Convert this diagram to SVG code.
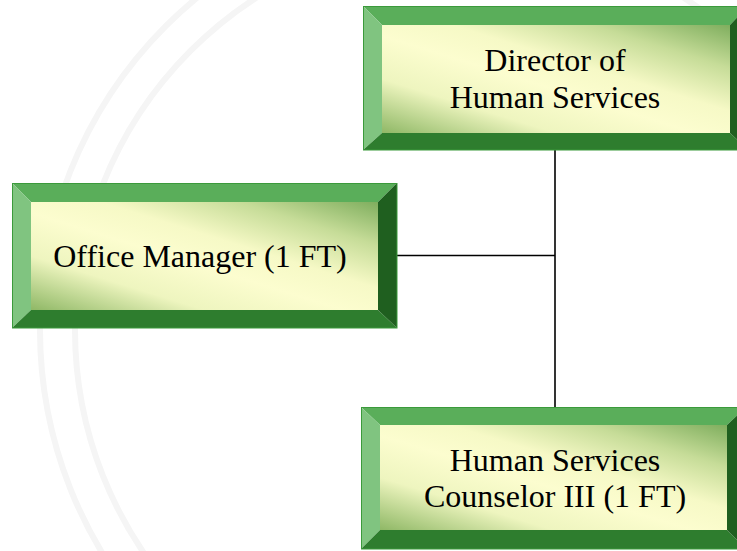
<svg xmlns="http://www.w3.org/2000/svg" width="737" height="551" viewBox="0 0 737 551">
<defs>
<linearGradient id="face" x1="0" y1="1" x2="1" y2="0">
<stop offset="0" stop-color="#8fb866"/>
<stop offset="0.25" stop-color="#eef5bf"/>
<stop offset="0.45" stop-color="#fcfdcf"/>
<stop offset="0.6" stop-color="#f6f9c6"/>
<stop offset="0.8" stop-color="#c6dc98"/>
<stop offset="1" stop-color="#7fae5e"/>
</linearGradient>
<style>
.t{fill:#5aae5a}.l{fill:#80c480}.b{fill:#2e7d2e}.r{fill:#1f5f1f}
.o{fill:none;stroke:#3b9a3b;stroke-width:1}
.f{fill:url(#face)}
.txt{font-family:"Liberation Serif","Times New Roman",serif;font-size:32px;fill:#000;text-anchor:middle}
.wm{fill:none;stroke:#f5f5f5;stroke-width:6}
.c{stroke:#000;stroke-width:1.6;fill:none}
</style>
</defs>
<rect width="737" height="551" fill="#fff"/>
<g id="watermark">
<circle class="wm" cx="470" cy="330" r="430"/>
<circle class="wm" cx="470" cy="330" r="395"/>
</g>
<g id="connectors">
<line class="c" x1="555" y1="150" x2="555" y2="407"/>
<line class="c" x1="397" y1="255.5" x2="555" y2="255.5"/>
</g>
<g id="director">
<polygon class="t" points="363,6 748,6 730,25 382,25"/>
<polygon class="l" points="363,6 382,25 382,133 363,150"/>
<polygon class="b" points="363,150 382,133 730,133 748,150"/>
<polygon class="r" points="748,6 730,25 730,133 748,150"/>
<rect class="f" x="382" y="25" width="348" height="108"/>
<rect class="o" x="363.5" y="6.5" width="385" height="143.5"/>
<text class="txt" x="555" y="71">Director of</text>
<text class="txt" x="555" y="108">Human Services</text>
</g>
<g id="office-manager">
<polygon class="t" points="12,183 397,183 378,202 31,202"/>
<polygon class="l" points="12,183 31,202 31,310 12,328"/>
<polygon class="b" points="12,328 31,310 378,310 397,328"/>
<polygon class="r" points="397,183 378,202 378,310 397,328"/>
<rect class="f" x="31" y="202" width="347" height="108"/>
<rect class="o" x="12.5" y="183.5" width="384.5" height="144.5"/>
<text class="txt" x="200" y="267">Office Manager (1 FT)</text>
</g>
<g id="counselor">
<polygon class="t" points="361,407 746,407 727,425 380,425"/>
<polygon class="l" points="361,407 380,425 380,530 361,549"/>
<polygon class="b" points="361,549 380,530 727,530 746,549"/>
<polygon class="r" points="746,407 727,425 727,530 746,549"/>
<rect class="f" x="380" y="425" width="347" height="105"/>
<rect class="o" x="361.5" y="407.5" width="384.5" height="141.5"/>
<text class="txt" x="555" y="471">Human Services</text>
<text class="txt" x="555" y="507">Counselor III (1 FT)</text>
</g>
</svg>
